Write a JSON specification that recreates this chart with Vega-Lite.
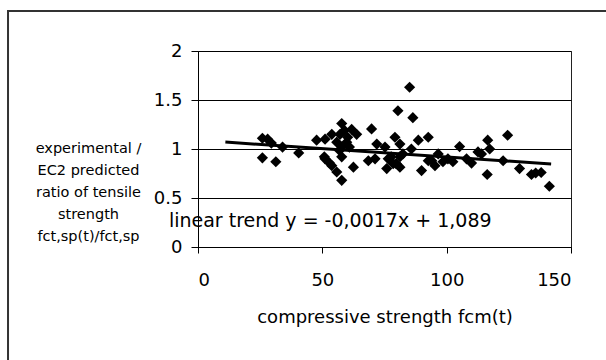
{
  "$schema": "https://vega.github.io/schema/vega-lite/v6.json",
  "autosize": {"type": "none"},
  "padding": {"left": 198, "top": 51, "right": 35, "bottom": 113},
  "width": 373,
  "height": 196,
  "background": "white",
  "config": {
    "font": "DejaVu Sans",
    "view": {"stroke": "#222", "strokeWidth": 1}
  },
  "datasets": {
    "points": [
      {"fcm": 25.9, "ratio": 1.11}, {"fcm": 28.0, "ratio": 1.10}, {"fcm": 25.9, "ratio": 0.91},
      {"fcm": 31.3, "ratio": 0.87}, {"fcm": 29.5, "ratio": 1.06}, {"fcm": 34.0, "ratio": 1.02},
      {"fcm": 40.5, "ratio": 0.96}, {"fcm": 47.7, "ratio": 1.09}, {"fcm": 51.1, "ratio": 1.10},
      {"fcm": 53.8, "ratio": 1.15}, {"fcm": 57.1, "ratio": 1.15}, {"fcm": 57.8, "ratio": 1.26},
      {"fcm": 55.8, "ratio": 1.07}, {"fcm": 59.8, "ratio": 1.07}, {"fcm": 61.8, "ratio": 1.20},
      {"fcm": 63.8, "ratio": 1.15}, {"fcm": 57.8, "ratio": 1.02}, {"fcm": 56.9, "ratio": 0.985},
      {"fcm": 60.9, "ratio": 1.02}, {"fcm": 51.1, "ratio": 0.90}, {"fcm": 53.8, "ratio": 0.83},
      {"fcm": 55.8, "ratio": 0.765}, {"fcm": 57.8, "ratio": 0.68}, {"fcm": 57.8, "ratio": 0.92},
      {"fcm": 62.5, "ratio": 0.815}, {"fcm": 58.9, "ratio": 1.19}, {"fcm": 60.2, "ratio": 1.12},
      {"fcm": 69.8, "ratio": 1.205}, {"fcm": 68.5, "ratio": 0.88}, {"fcm": 71.2, "ratio": 0.90},
      {"fcm": 71.9, "ratio": 1.05}, {"fcm": 75.2, "ratio": 1.02}, {"fcm": 79.2, "ratio": 1.12},
      {"fcm": 81.2, "ratio": 1.05}, {"fcm": 76.5, "ratio": 0.90}, {"fcm": 78.5, "ratio": 0.85},
      {"fcm": 75.9, "ratio": 0.80}, {"fcm": 81.2, "ratio": 0.815}, {"fcm": 81.2, "ratio": 0.92},
      {"fcm": 80.4, "ratio": 1.39}, {"fcm": 85.1, "ratio": 1.63}, {"fcm": 86.4, "ratio": 1.32},
      {"fcm": 88.6, "ratio": 1.09}, {"fcm": 92.6, "ratio": 1.12}, {"fcm": 89.9, "ratio": 0.78},
      {"fcm": 92.6, "ratio": 0.88}, {"fcm": 96.6, "ratio": 0.95}, {"fcm": 95.3, "ratio": 0.83},
      {"fcm": 85.8, "ratio": 1.0}, {"fcm": 82.4, "ratio": 0.95}, {"fcm": 98.5, "ratio": 0.87},
      {"fcm": 102.5, "ratio": 0.87}, {"fcm": 105.2, "ratio": 1.025}, {"fcm": 110.0, "ratio": 0.856},
      {"fcm": 112.6, "ratio": 0.97}, {"fcm": 114.0, "ratio": 0.95}, {"fcm": 116.5, "ratio": 1.09},
      {"fcm": 117.3, "ratio": 1.0}, {"fcm": 116.3, "ratio": 0.74}, {"fcm": 122.7, "ratio": 0.88},
      {"fcm": 124.5, "ratio": 1.14}, {"fcm": 129.3, "ratio": 0.80}, {"fcm": 134.1, "ratio": 0.74},
      {"fcm": 135.8, "ratio": 0.755}, {"fcm": 138.0, "ratio": 0.76}, {"fcm": 141.3, "ratio": 0.62},
      {"fcm": 50.8, "ratio": 0.92}, {"fcm": 52.8, "ratio": 0.86}, {"fcm": 77.7, "ratio": 0.92},
      {"fcm": 79.7, "ratio": 0.85}, {"fcm": 94.0, "ratio": 0.88}, {"fcm": 100.5, "ratio": 0.90},
      {"fcm": 108.0, "ratio": 0.90}
    ],
    "trend": [
      {"fcm": 11, "ratio": 1.0703},
      {"fcm": 142, "ratio": 0.8476}
    ]
  },
  "layer": [
    {
      "data": {"values": [{}]},
      "mark": {"type": "rect", "fill": null, "stroke": "#333", "strokeWidth": 2},
      "encoding": {
        "x": {"datum": -76.4, "type": "quantitative"},
        "x2": {"datum": 180},
        "y": {"datum": 2.408, "type": "quantitative"},
        "y2": {"datum": -1.5}
      }
    },
    {
      "data": {"name": "points"},
      "mark": {"type": "point", "shape": "diamond", "filled": true, "color": "black", "size": 125, "opacity": 1},
      "encoding": {
        "x": {
          "field": "fcm", "type": "quantitative",
          "scale": {"domain": [0, 150], "nice": false, "zero": false},
          "axis": {
            "values": [0, 50, 100, 150], "format": "d", "grid": false,
            "title": "compressive strength fcm(t)",
            "domainColor": "black", "tickColor": "black", "tickSize": 6,
            "labelFontSize": 18, "labelColor": "black", "labelPadding": 18,
            "labelFont": "DejaVu Sans",
            "titleFont": "DejaVu Sans", "titleFontSize": 18, "titleFontWeight": "normal",
            "titleColor": "black", "titlePadding": 19
          }
        },
        "y": {
          "field": "ratio", "type": "quantitative",
          "scale": {"domain": [0, 2], "nice": false, "zero": false},
          "axis": {
            "values": [0, 0.5, 1, 1.5, 2], "format": "~g", "grid": true,
            "gridColor": "black", "gridWidth": 1, "gridOpacity": 1,
            "domainColor": "black", "tickColor": "black", "tickSize": 7,
            "labelFontSize": 18, "labelColor": "black", "labelPadding": 9,
            "labelFont": "DejaVu Sans",
            "title": ["experimental /", "EC2 predicted", "ratio of tensile", "strength", "fct,sp(t)/fct,sp"],
            "titleFont": "DejaVu Sans", "titleFontSize": 14.5, "titleFontWeight": "normal",
            "titleColor": "black", "titleAngle": 0, "titleAlign": "center",
            "titleBaseline": "middle", "titleLineHeight": 22,
            "titleX": -110, "titleY": 97
          }
        }
      }
    },
    {
      "data": {"name": "trend"},
      "mark": {"type": "line", "color": "black", "strokeWidth": 3},
      "encoding": {
        "x": {"field": "fcm", "type": "quantitative"},
        "y": {"field": "ratio", "type": "quantitative"}
      }
    },
    {
      "data": {"values": [{}]},
      "mark": {"type": "text", "text": "linear trend y = -0,0017x + 1,089", "align": "left", "baseline": "middle", "fontSize": 19, "font": "DejaVu Sans", "color": "black"},
      "encoding": {
        "x": {"datum": -11.7, "type": "quantitative"},
        "y": {"datum": 0.264, "type": "quantitative"}
      }
    }
  ]
}
